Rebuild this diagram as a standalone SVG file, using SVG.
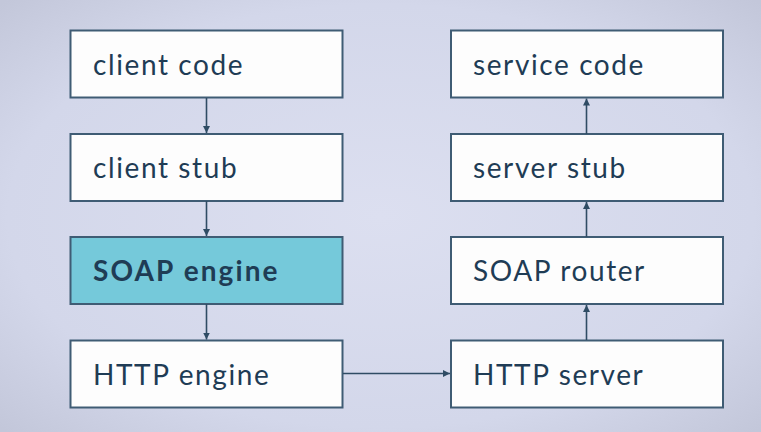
<svg xmlns="http://www.w3.org/2000/svg" width="761" height="432" viewBox="0 0 761 432">
<defs>
<radialGradient id="bg" cx="50%" cy="50%" r="70%">
<stop offset="0" stop-color="#dcdff0"/>
<stop offset="0.7" stop-color="#d3d7ea"/>
<stop offset="1" stop-color="#c3c7da"/>
</radialGradient>
<marker id="ah" viewBox="0 0 10 10" refX="10" refY="5" markerWidth="7" markerHeight="7" markerUnits="userSpaceOnUse" orient="auto">
<path d="M0,0 L10,5 L0,10 z" fill="#2f4c64"/>
</marker>
<style>
.box{fill:#fdfdfd;stroke:#3f5c74;stroke-width:2}
.hl{fill:#75c9da;stroke:#3f5c74;stroke-width:2}
.t{font-family:Lato,"Open Sans",sans-serif;font-size:28px;letter-spacing:1.6px;fill:#1f3c55}
.b{font-weight:bold;letter-spacing:2.1px}
.c{stroke:#2f4c64;stroke-width:1.6;fill:none;marker-end:url(#ah)}
</style>
</defs>
<rect width="761" height="432" fill="url(#bg)"/>
<g id="client-code"><rect class="box" x="70.5" y="30.5" width="272" height="67"/><text class="t" x="93" y="74.5">client code</text></g>
<g id="client-stub"><rect class="box" x="70.5" y="134" width="272" height="67"/><text class="t" x="93" y="178">client stub</text></g>
<g id="soap-engine"><rect class="hl" x="70.5" y="237" width="272" height="67"/><text class="t b" x="93" y="281">SOAP engine</text></g>
<g id="http-engine"><rect class="box" x="70.5" y="340.5" width="272" height="67"/><text class="t" x="93" y="385">HTTP engine</text></g>
<g id="service-code"><rect class="box" x="451" y="30.5" width="272" height="67"/><text class="t" x="473" y="74.5">service code</text></g>
<g id="server-stub"><rect class="box" x="451" y="134" width="272" height="67"/><text class="t" x="473" y="178">server stub</text></g>
<g id="soap-router"><rect class="box" x="451" y="237" width="272" height="67"/><text class="t" x="473" y="281">SOAP router</text></g>
<g id="http-server"><rect class="box" x="451" y="340.5" width="272" height="67"/><text class="t" x="473" y="385">HTTP server</text></g>
<g id="connectors">
<line class="c" x1="206.5" y1="98" x2="206.5" y2="133"/>
<line class="c" x1="206.5" y1="201" x2="206.5" y2="236"/>
<line class="c" x1="206.5" y1="304" x2="206.5" y2="339.5"/>
<line class="c" x1="343" y1="373.5" x2="450" y2="373.5"/>
<line class="c" x1="586.5" y1="340" x2="586.5" y2="305"/>
<line class="c" x1="586.5" y1="237" x2="586.5" y2="202"/>
<line class="c" x1="586.5" y1="134" x2="586.5" y2="98.5"/>
</g>
</svg>
